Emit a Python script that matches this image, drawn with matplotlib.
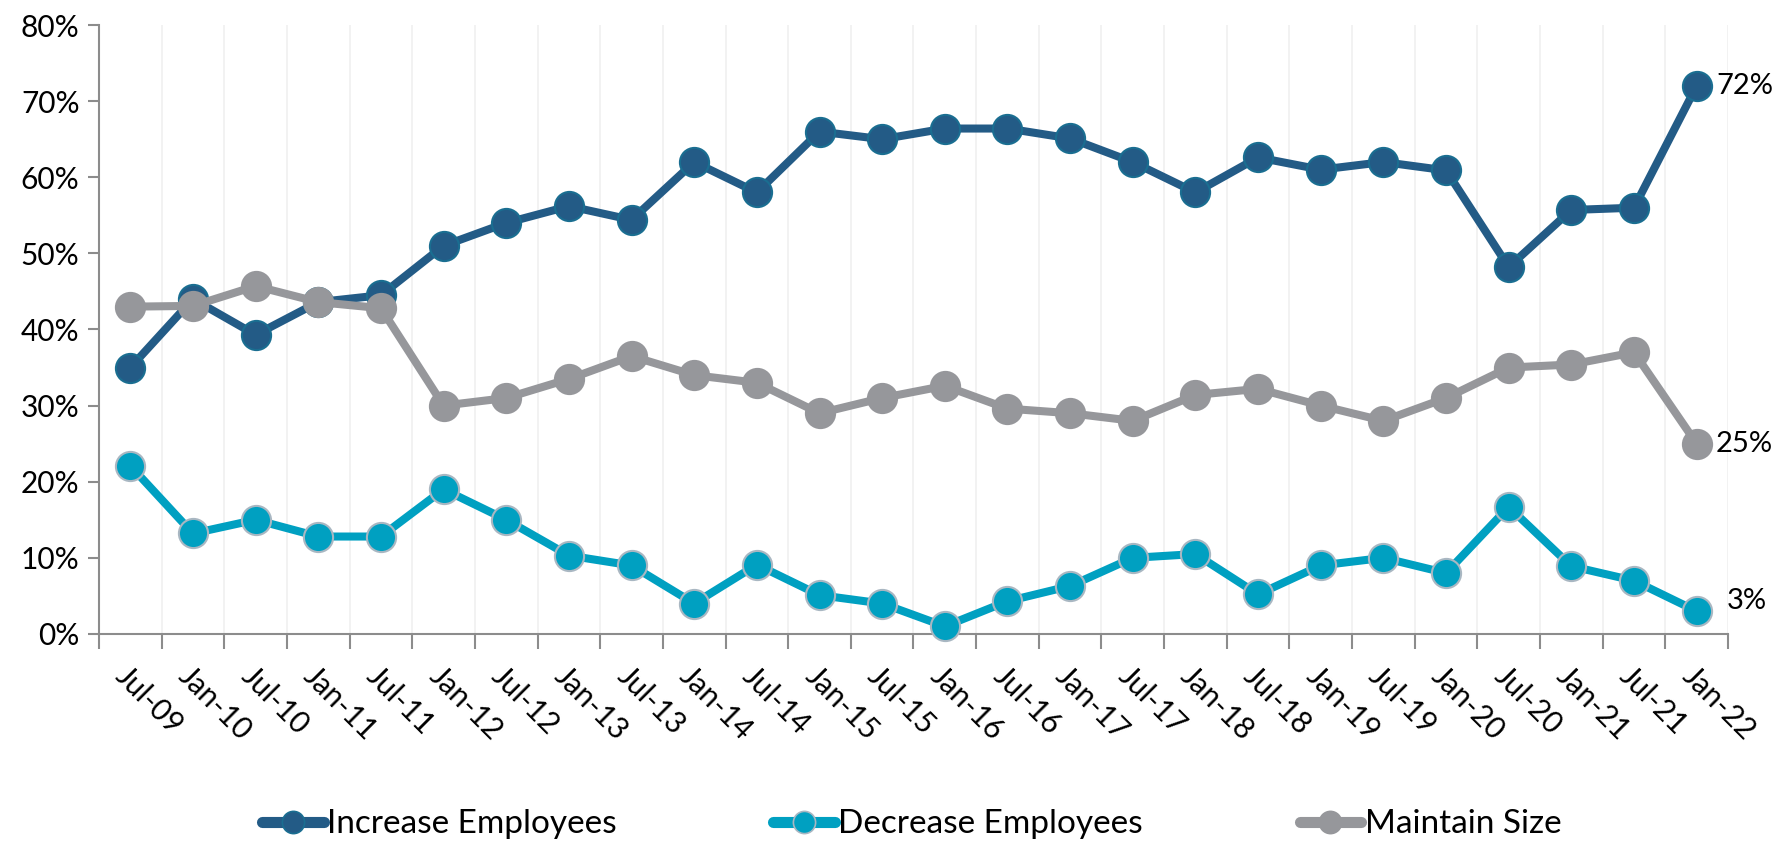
import matplotlib
matplotlib.use("Agg")
import matplotlib.pyplot as plt
import numpy as np
from matplotlib.lines import Line2D
from matplotlib.ticker import FixedLocator, PercentFormatter

periods = ["Jul-09", "Jan-10", "Jul-10", "Jan-11", "Jul-11", "Jan-12", "Jul-12", "Jan-13",
           "Jul-13", "Jan-14", "Jul-14", "Jan-15", "Jul-15", "Jan-16", "Jul-16", "Jan-17",
           "Jul-17", "Jan-18", "Jul-18", "Jan-19", "Jul-19", "Jan-20", "Jul-20", "Jan-21",
           "Jul-21", "Jan-22"]

increase = [35.0, 44.0, 39.3, 43.6, 44.5, 51.0, 54.0, 56.2, 54.4, 62.0, 58.0, 66.0, 65.0,
            66.4, 66.4, 65.1, 62.0, 58.0, 62.6, 61.0, 62.0, 60.9, 48.2, 55.7, 56.0, 72.0]
decrease = [22.1, 13.2, 15.0, 12.8, 12.8, 19.0, 15.0, 10.3, 9.0, 4.0, 9.1, 5.1, 4.0,
            1.0, 4.3, 6.3, 10.0, 10.5, 5.2, 9.0, 10.0, 8.0, 16.7, 8.9, 7.0, 3.0]
maintain = [43.0, 43.1, 45.7, 43.6, 42.8, 30.0, 31.0, 33.5, 36.5, 34.0, 33.0, 29.0, 31.0,
            32.6, 29.6, 29.0, 28.0, 31.4, 32.2, 30.0, 28.0, 31.0, 35.0, 35.4, 37.0, 25.0]

series = [
    ("Increase Employees", increase, "#235B86", "#1A6E91"),
    ("Decrease Employees", decrease, "#00A0C1", "#A9B7C2"),
    ("Maintain Size", maintain, "#96979B", "#96979B"),
]

plt.rcParams["font.family"] = ["Lato", "DejaVu Sans"]

fig = plt.figure(figsize=(17.84, 8.48), dpi=100)
ax = fig.add_axes([0.0555, 0.2524, 0.9131, 0.7181])

x = np.arange(len(periods))
handles = []
for name, vals, color, edge in series:
    ax.plot(x, vals, color=color, lw=5.8, marker="o", markersize=21,
            markerfacecolor=color, markeredgecolor=edge, markeredgewidth=1.5,
            zorder=3, clip_on=False)
    handles.append(Line2D([], [], color=color, lw=8, solid_capstyle="round", marker="o",
                          markersize=16, markerfacecolor=color, markeredgecolor=edge,
                          markeredgewidth=1.2, label=name))

# end labels
ax.annotate("72%", (x[-1], increase[-1]), xytext=(14, 0), textcoords="offset points",
            va="center", ha="left", fontsize=21, color="black")
ax.annotate("25%", (x[-1], maintain[-1]), xytext=(14, 0), textcoords="offset points",
            va="center", ha="left", fontsize=21, color="black")
ax.annotate("3%", (x[-1], decrease[-1]), xytext=(22, 7), textcoords="offset points",
            va="center", ha="left", fontsize=21, color="black")

ax.set_xlim(-0.5, len(periods) - 0.5)
ax.set_ylim(0, 80)
ax.yaxis.set_major_locator(FixedLocator(np.arange(0, 81, 10)))
ax.yaxis.set_major_formatter(PercentFormatter(decimals=0))

bounds = np.arange(-0.5, len(periods), 1.0)
ax.set_xticks(bounds)
ax.set_xticklabels([])
ax.set_xticks(x, minor=True)
ax.set_xticklabels(periods, minor=True, rotation=-45, ha="left", va="top",
                   rotation_mode="anchor")
ax.tick_params(axis="x", which="minor", length=0, pad=20, labelsize=21.5)
ax.tick_params(axis="x", which="major", length=11, width=1.5, color="#8C8C8C", direction="out")
ax.tick_params(axis="y", length=8, width=1.5, color="#8C8C8C", labelsize=21.5, pad=6)

ax.grid(axis="x", which="major", color="#F0F0F0", lw=1.2)
ax.set_axisbelow(True)
for side in ("top", "right"):
    ax.spines[side].set_visible(False)
for side in ("left", "bottom"):
    ax.spines[side].set_color("#8C8C8C")
    ax.spines[side].set_linewidth(1.5)

fig.legend(handles=handles, loc="center", bbox_to_anchor=(0.511, 0.028), ncol=3,
           frameon=False, fontsize=24, columnspacing=4.7, handlelength=1.85,
           handletextpad=0.1)

fig.savefig("out.png", dpi=100)
